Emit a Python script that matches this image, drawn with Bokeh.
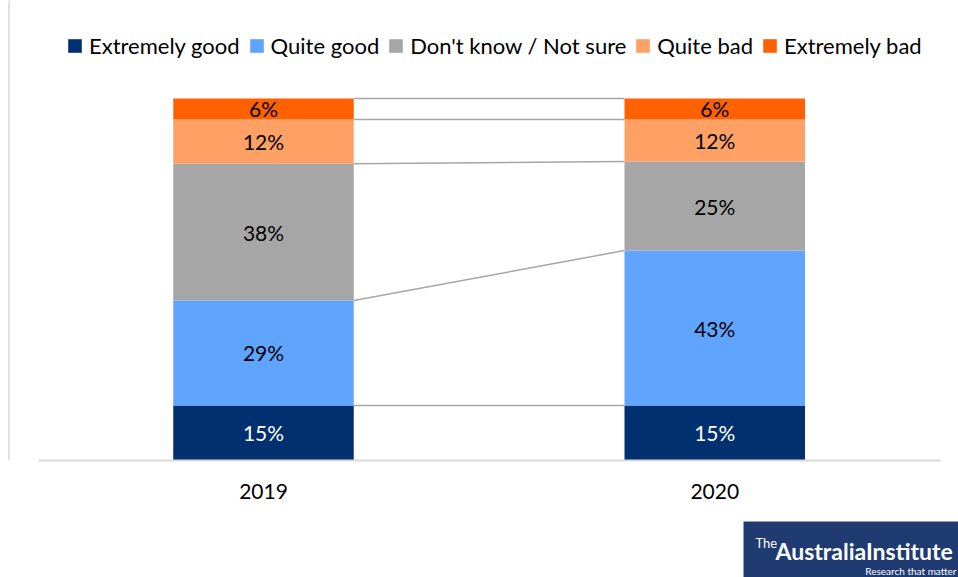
from bokeh.plotting import figure
from bokeh.models import Range1d, Legend, LegendItem, FixedTicker, ColumnDataSource, Span, Label, Spacer
from bokeh.layouts import column, row
from bokeh.embed import file_html
from bokeh.resources import INLINE
from bokeh.core.properties import value

# ---- data ----
years = ["2019", "2020"]
responses = ["Extremely good", "Quite good", "Don't know / Not sure", "Quite bad", "Extremely bad"]
v2019 = [15.2, 29.0, 37.8, 12.2, 5.8]
v2020 = [15.2, 42.8, 24.6, 11.6, 5.8]
labels2019 = ["15%", "29%", "38%", "12%", "6%"]
labels2020 = ["15%", "43%", "25%", "12%", "6%"]
colors = ["#003070", "#5FA4FF", "#A6A6A6", "#FFA064", "#FF6000"]
label_colors = ["white", "black", "black", "black", "black"]

FONT = "Lato"
xpos = [0, 1]
bar_w = 0.4
px_per_unit = 451.25

p = figure(width=958, height=521,
           x_range=Range1d(-263 / px_per_unit, 695 / px_per_unit),
           y_range=Range1d(0, 127.07),
           output_backend="svg", toolbar_location=None, y_axis_location=None,
           min_border_left=0, min_border_right=0, min_border_top=0, min_border_bottom=61)
p.outline_line_color = None
p.grid.visible = False
p.background_fill_color = "white"

keys = [f"s{i}" for i in range(len(responses))]
data = {"x": xpos}
for i, k in enumerate(keys):
    data[k] = [v2019[i], v2020[i]]
src = ColumnDataSource(data)
rends = p.vbar_stack(keys, x="x", width=bar_w, fill_color=colors, line_color=None, source=src)

# connector (series) lines
def cums(vals):
    out, s = [], 0
    for v in vals:
        s += v
        out.append(s)
    return out

c19, c20 = cums(v2019), cums(v2020)
p.segment(x0=[xpos[0] + bar_w / 2] * len(c19), y0=c19,
          x1=[xpos[1] - bar_w / 2] * len(c20), y1=c20,
          line_color="#A6A6A6", line_width=1.5)

# bar labels
lx, ly, lt, lc = [], [], [], []
for xi, vals, labs in [(xpos[0], v2019, labels2019), (xpos[1], v2020, labels2020)]:
    base = 0
    for i, v in enumerate(vals):
        lx.append(xi)
        ly.append(base + v / 2)
        lt.append(labs[i])
        lc.append(label_colors[i])
        base += v
p.text(x="x", y="y", text="text", text_color="color", text_align="center",
       text_baseline="middle", text_font=value(FONT), text_font_size="21px",
       source=ColumnDataSource(dict(x=lx, y=ly, text=lt, color=lc)))

# x axis
ax = p.xaxis[0]
ax.ticker = FixedTicker(ticks=xpos)
ax.major_label_overrides = {xpos[i]: years[i] for i in range(len(years))}
ax.bounds = (-225 / px_per_unit, 677 / px_per_unit)
ax.axis_line_color = "#D9D9D9"
ax.axis_line_width = 2
ax.major_tick_line_color = None
ax.minor_tick_line_color = None
ax.major_label_text_font = FONT
ax.major_label_text_font_size = "21px"
ax.major_label_text_color = "black"
ax.major_label_standoff = 17

p.add_layout(Span(location=-254.5 / px_per_unit, dimension="height",
                  line_color="#D9D9D9", line_width=1.5))

leg = Legend(items=[LegendItem(label=responses[i], renderers=[rends[i]]) for i in range(len(responses))],
             orientation="horizontal", location=(66, 401), padding=0, margin=0,
             spacing=8, label_standoff=6, glyph_width=17, glyph_height=17,
             label_text_font=FONT, label_text_font_size="22px", label_text_color="black",
             border_line_color=None, background_fill_alpha=0)
p.add_layout(leg)

# logo
logo_bg = "#1F3B72"
lf = figure(width=215, height=56, x_range=Range1d(0, 215), y_range=Range1d(0, 56),
            output_backend="svg", toolbar_location=None, min_border=0,
            x_axis_location=None, y_axis_location=None)
lf.grid.visible = False
lf.outline_line_color = None
lf.background_fill_color = logo_bg
lf.border_fill_color = logo_bg
lf.add_layout(Label(x=12, y=43, text="The", text_font=FONT, text_font_size="13px",
                    text_color="white", text_baseline="top"))
lf.add_layout(Label(x=32, y=27, text="AustraliaInstitute", text_font=FONT, text_font_size="23px",
                    text_font_style="bold", text_color="white", text_baseline="alphabetic"))
lf.add_layout(Label(x=213, y=7, text="Research that matter", text_font=FONT, text_font_size="10px",
                    text_color="white", text_align="right", text_baseline="alphabetic"))

layout = column(p, row(Spacer(width=743, height=56), lf))
open("out.html", "w").write(file_html(layout, INLINE))
